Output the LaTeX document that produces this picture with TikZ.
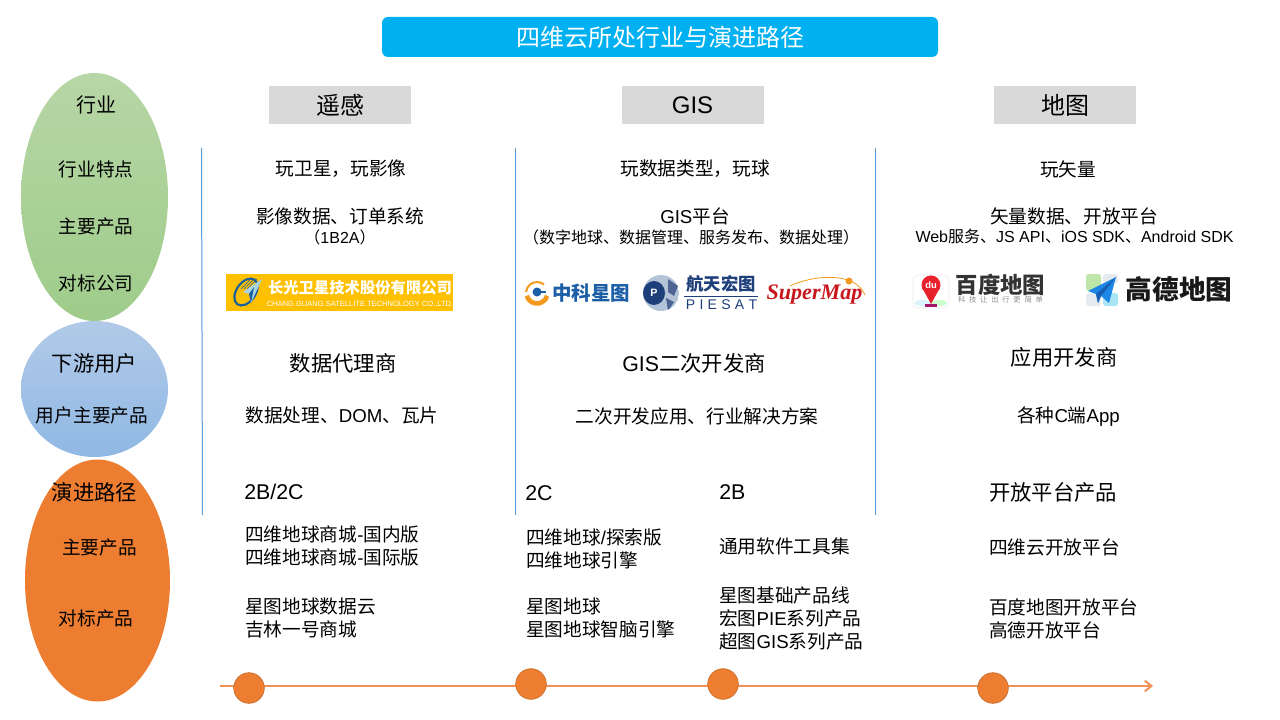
\documentclass[tikz,border=0pt]{standalone}
\usepackage{fontspec}
\usepackage{xcolor}
\usepackage{tikz}
\usetikzlibrary{shapes.geometric, arrows.meta}

\setmainfont{Noto Sans CJK SC}
\newfontfamily\latf{Liberation Sans}
\newfontfamily\logoserif{Liberation Serif}
\newcommand{\lat}[1]{{\latf #1}}

\definecolor{titleblue}{HTML}{00B0F0}
\definecolor{headgray}{HTML}{D9D9D9}
\definecolor{rulesblue}{HTML}{5B9BD5}
\definecolor{pathorange}{HTML}{ED7D31}
\definecolor{lineorange}{HTML}{EE9257}
\definecolor{cgyellow}{HTML}{FFC000}
\definecolor{cgblue}{HTML}{1B5E9E}
\definecolor{cgpale}{HTML}{A8D4E6}
\definecolor{zkblue}{HTML}{1D5FA6}
\definecolor{zkorange}{HTML}{F39A1E}
\definecolor{pienavy}{HTML}{1F3F7A}
\definecolor{piesilver}{HTML}{B4C4D8}
\definecolor{smred}{HTML}{C8161D}
\definecolor{durred}{HTML}{E8212C}
\definecolor{gdblue}{HTML}{1E86E5}
\definecolor{gddark}{HTML}{1560B5}
\definecolor{gdgreen}{HTML}{BDE6A8}
\definecolor{gdcyan}{HTML}{A9E5F5}
\definecolor{gdgray}{HTML}{E4EAEE}

\tikzset{
	txt/.style={inner sep=0pt, font=\fontsize{14pt}{17.25pt}\selectfont},
	txtbig/.style={inner sep=0pt, font=\fontsize{16pt}{20pt}\selectfont},
	txtsmall/.style={inner sep=0pt, font=\fontsize{12pt}{15pt}\selectfont},
	txtleft/.style={inner sep=0pt, anchor=west, align=left, font=\fontsize{14pt}{17.25pt}\selectfont},
	headbox/.style={fill=headgray, inner sep=0pt, minimum width=106.5pt, minimum height=28.5pt, font=\fontsize{18pt}{22pt}\selectfont},
	group/.style={ellipse, inner sep=0pt, minimum width=110.25pt},
	dot/.style={circle, fill=pathorange, draw=pathorange!80!black, line width=0.4pt, inner sep=0pt, minimum size=23pt},
	colrule/.style={color=rulesblue, line width=0.75pt}
}

\begin{document}
\begin{tikzpicture}[x=0.75pt,y=-0.75pt]
\useasboundingbox (0,0) rectangle (1280,720);

\node[fill=titleblue, rounded corners=4.5pt, inner sep=0pt, minimum width=417pt, minimum height=30pt, text=white, font=\fontsize{18pt}{22pt}\selectfont] (title) at (660,37) {四维云所处行业与演进路径};

\node[group, minimum height=186pt, shading=axis, top color={rgb,255:red,183;green,214;blue,166}, bottom color={rgb,255:red,158;green,204;blue,138}] (groupHangye) at (94.5,197) {};
\node[group, minimum height=102pt, shading=axis, top color={rgb,255:red,178;green,202;blue,232}, bottom color={rgb,255:red,143;green,184;blue,228}] (groupXiayou) at (94.5,389) {};
\node[group, minimum width=108.75pt, minimum height=181.5pt, fill=pathorange] (groupYanjin) at (97.5,580.5) {};

\node[inner sep=0pt, font=\fontsize{15pt}{18pt}\selectfont] (lHangye) at (96,105) {行业};
\node[txt] (lTrait) at (96,169) {行业特点};
\node[txt] (lProduct) at (96,226) {主要产品};
\node[txt] (lCompany) at (96,283) {对标公司};
\node[txtbig] (lUser) at (94.5,363) {下游用户};
\node[txt] (lUserProduct) at (92,415) {用户主要产品};
\node[txtbig] (lPath) at (94.5,492) {演进路径};
\node[txt] (lPathProduct) at (99.5,547) {主要产品};
\node[txt] (lPathRival) at (96,618) {对标产品};

\node[headbox] (headYaogan) at (340,105) {遥感};
\node[headbox] (headGis) at (692.5,105) {\lat{GIS}};
\node[headbox] (headDitu) at (1065,105) {地图};

\foreach \x/\name/\xb in {201.5/a/202.5,515/b/515,875/c/875}{
	\coordinate (rule\name top) at (\x,148);
	\coordinate (rule\name bot) at (\xb,515);
	\draw[colrule] (rule\name top) -- (rule\name bot);
}

\node[txt] (yTrait) at (341,169) {玩卫星，玩影像};
\node[txt] (yProduct) at (340,216) {影像数据、订单系统};
\node[txtsmall] (yProductSub) at (340,237) {（\lat{1B2A}）};
\node[txtbig] (yUser) at (343,363) {数据代理商};
\node[txt] (yUserProduct) at (342,415) {数据处理、\lat{DOM}、瓦片};
\node[txtbig, anchor=west] (yPath) at (244,492) {\lat{2B/2C}};
\node[txtleft] (yPathProduct) at (245,545.5) {四维地球商城\lat{-}国内版\\四维地球商城\lat{-}国际版};
\node[txtleft] (yPathRival) at (245,617.5) {星图地球数据云\\吉林一号商城};

\node[txt] (gTrait) at (695,169) {玩数据类型，玩球};
\node[txt] (gProduct) at (695,216) {\lat{GIS}平台};
\node[txtsmall] (gProductSub) at (691,237) {（数字地球、数据管理、服务发布、数据处理）};
\node[txtbig] (gUser) at (694,363) {\lat{GIS}二次开发商};
\node[txt] (gUserProduct) at (697,416) {二次开发应用、行业解决方案};
\node[txtbig, anchor=west] (gPathC) at (525,493) {\lat{2C}};
\node[txtbig, anchor=west] (gPathB) at (719,492) {\lat{2B}};
\node[txtleft] (gPathCProduct) at (526,548.5) {四维地球\lat{/}探索版\\四维地球引擎};
\node[txtleft] (gPathBProduct) at (719,546) {通用软件工具集};
\node[txtleft] (gPathCRival) at (526,617.5) {星图地球\\星图地球智脑引擎};
\node[txtleft] (gPathBRival) at (719,618) {星图基础产品线\\宏图\lat{PIE}系列产品\\超图\lat{GIS}系列产品};

\node[txt] (dTrait) at (1068,169) {玩矢量};
\node[txt] (dProduct) at (1074,216) {矢量数据、开放平台};
\node[txtsmall] (dProductSub) at (1074.5,236) {\lat{Web}服务、\lat{JS API}、\lat{iOS SDK}、\lat{Android SDK}};
\node[txtbig] (dUser) at (1064,357) {应用开发商};
\node[txt] (dUserProduct) at (1068.5,416.5) {各种\lat{C}端\lat{App}};
\node[txtbig, anchor=west] (dPath) at (989,492) {开放平台产品};
\node[txtleft] (dPathProduct) at (989,547) {四维云开放平台};
\node[txtleft] (dPathRival) at (989,618.5) {百度地图开放平台\\高德开放平台};

\fill[cgyellow] (226,274) rectangle (453,311);
\draw[cgblue, line width=1.6pt, rotate around={-35:(246,292)}] (246,292) ellipse (9.5 and 15);
\foreach \a in {241,244,247}{
	\draw[cgblue, line width=0.5pt] (\a,289) -- (\a+10,279);
}
\fill[cgpale] (262,279) -- (243,292) -- (249,294) -- (251,303) -- cycle;
\fill[cgblue] (254,287) -- (249,294) -- (251,303) -- cycle;
\node[inner sep=0pt, text=white, font=\fontsize{11.5pt}{13pt}\bfseries\selectfont] (cgName) at (360,288) {长光卫星技术股份有限公司};
\node[inner sep=0pt, text=white, font=\latf\fontsize{5.65pt}{7pt}\selectfont] (cgNameEn) at (360,304) {CHANG GUANG SATELLITE TECHNOLOGY CO.,LTD.};

\draw[zkorange, line width=1.5pt] (537,293) ++(185:11) arc (185:310:11);
\draw[zkorange, line width=3.5pt] (537,293) ++(15:10.5) arc (15:165:10.5);
\fill[zkblue] (537,292) circle (4.5);
\draw[zkblue, line width=1.6pt] (537,292) -- (546,292);
\node[inner sep=0pt, text=zkblue, font=\fontsize{14.6pt}{16pt}\bfseries\selectfont] (zkName) at (591,293) {中科星图};

\begin{scope}
\clip (661,293) circle (18);
\fill[piesilver] (661,293) circle (18);
\fill[pienavy] (654,293) ellipse (11 and 12);
\fill[pienavy!80!white] (668,279) -- (678,286) -- (674,296) -- (668,292) -- cycle;
\fill[pienavy!80!white] (666,298) -- (674,302) -- (668,311) -- cycle;
\end{scope}
\node[inner sep=0pt, text=white, font=\latf\fontsize{8pt}{9pt}\bfseries\selectfont] (pieP) at (654,293) {P};
\node[inner sep=0pt, text=pienavy, font=\fontsize{13pt}{15pt}\bfseries\selectfont] (pieName) at (721,284) {航天宏图};
\draw[pienavy, line width=0.5pt] (684,296) -- (758,296);
\node[inner sep=0pt, text=pienavy, font=\latf\fontsize{10.5pt}{12pt}\selectfont] (pieNameEn) at (721.5,305) {P\hspace{3.2pt}I\hspace{3.2pt}E\hspace{3.2pt}S\hspace{3.2pt}A\hspace{3.2pt}T};

\draw[zkorange, line width=0.6pt] (790,286) .. controls (810,276) and (855,270) .. (865,295);
\fill[zkorange] (849,281) circle (3.5);
\node[inner sep=0pt, text=smred, font=\logoserif\fontsize{16.6pt}{20pt}\bfseries\itshape\selectfont] (smName) at (814.5,295) {SuperMap};

\draw[black!8, fill=white, rounded corners=4pt, line width=0.5pt] (913,275) rectangle (949,308);
\fill[cyan!15] (923,303) ellipse (8 and 3);
\fill[green!20] (939,303) ellipse (8 and 3);
\fill[durred!70!blue] (925,304) rectangle (937,306.5);
\fill[durred] (931,304) -- (924.3,291.7) arc (135:405:9.5) -- cycle;
\node[inner sep=0pt, text=white, font=\latf\fontsize{7pt}{8pt}\bfseries\selectfont] (bdDu) at (931,285) {du};
\node[inner sep=0pt, text=black!80, font=\fontsize{16.8pt}{18pt}\bfseries\selectfont] (bdName) at (1000.5,285) {百度地图};
\node[inner sep=0pt, text=black!45, font=\fontsize{5.5pt}{6pt}\selectfont] (bdSlogan) at (1000.5,300) {科\hspace{2.8pt}技\hspace{2.8pt}让\hspace{2.8pt}出\hspace{2.8pt}行\hspace{2.8pt}更\hspace{2.8pt}简\hspace{2.8pt}单};

\fill[gdgreen, rounded corners=2pt] (1086,274) rectangle (1101,291);
\fill[gdgray, rounded corners=2pt] (1103,274) rectangle (1118,283);
\fill[gdgray, rounded corners=2pt] (1086,293) rectangle (1101,306);
\fill[gdcyan, rounded corners=2pt] (1103,293) rectangle (1118,306);
\fill[gdblue] (1088,291) -- (1116,277) -- (1109,303) -- (1101,296) -- (1098,303) -- (1096,294) -- cycle;
\fill[gddark] (1116,277) -- (1096,294) -- (1098,303) -- (1101,296) -- cycle;
\node[inner sep=0pt, text=black!90, font=\fontsize{20pt}{22pt}\bfseries\selectfont] (gdName) at (1179,289.5) {高德地图};

\coordinate (pathStart) at (220,686);
\coordinate (pathEnd) at (1153,686);
\draw[-{Straight Barb[length=5pt,width=8pt]}, color=lineorange, line width=1.5pt] (pathStart) -- (pathEnd);

\foreach \x/\y/\name in {249/688/a,531/684/b,723/684/c,993/688/d}{
	\node[dot] (dot\name) at (\x,\y) {};
}

\end{tikzpicture}
\end{document}
